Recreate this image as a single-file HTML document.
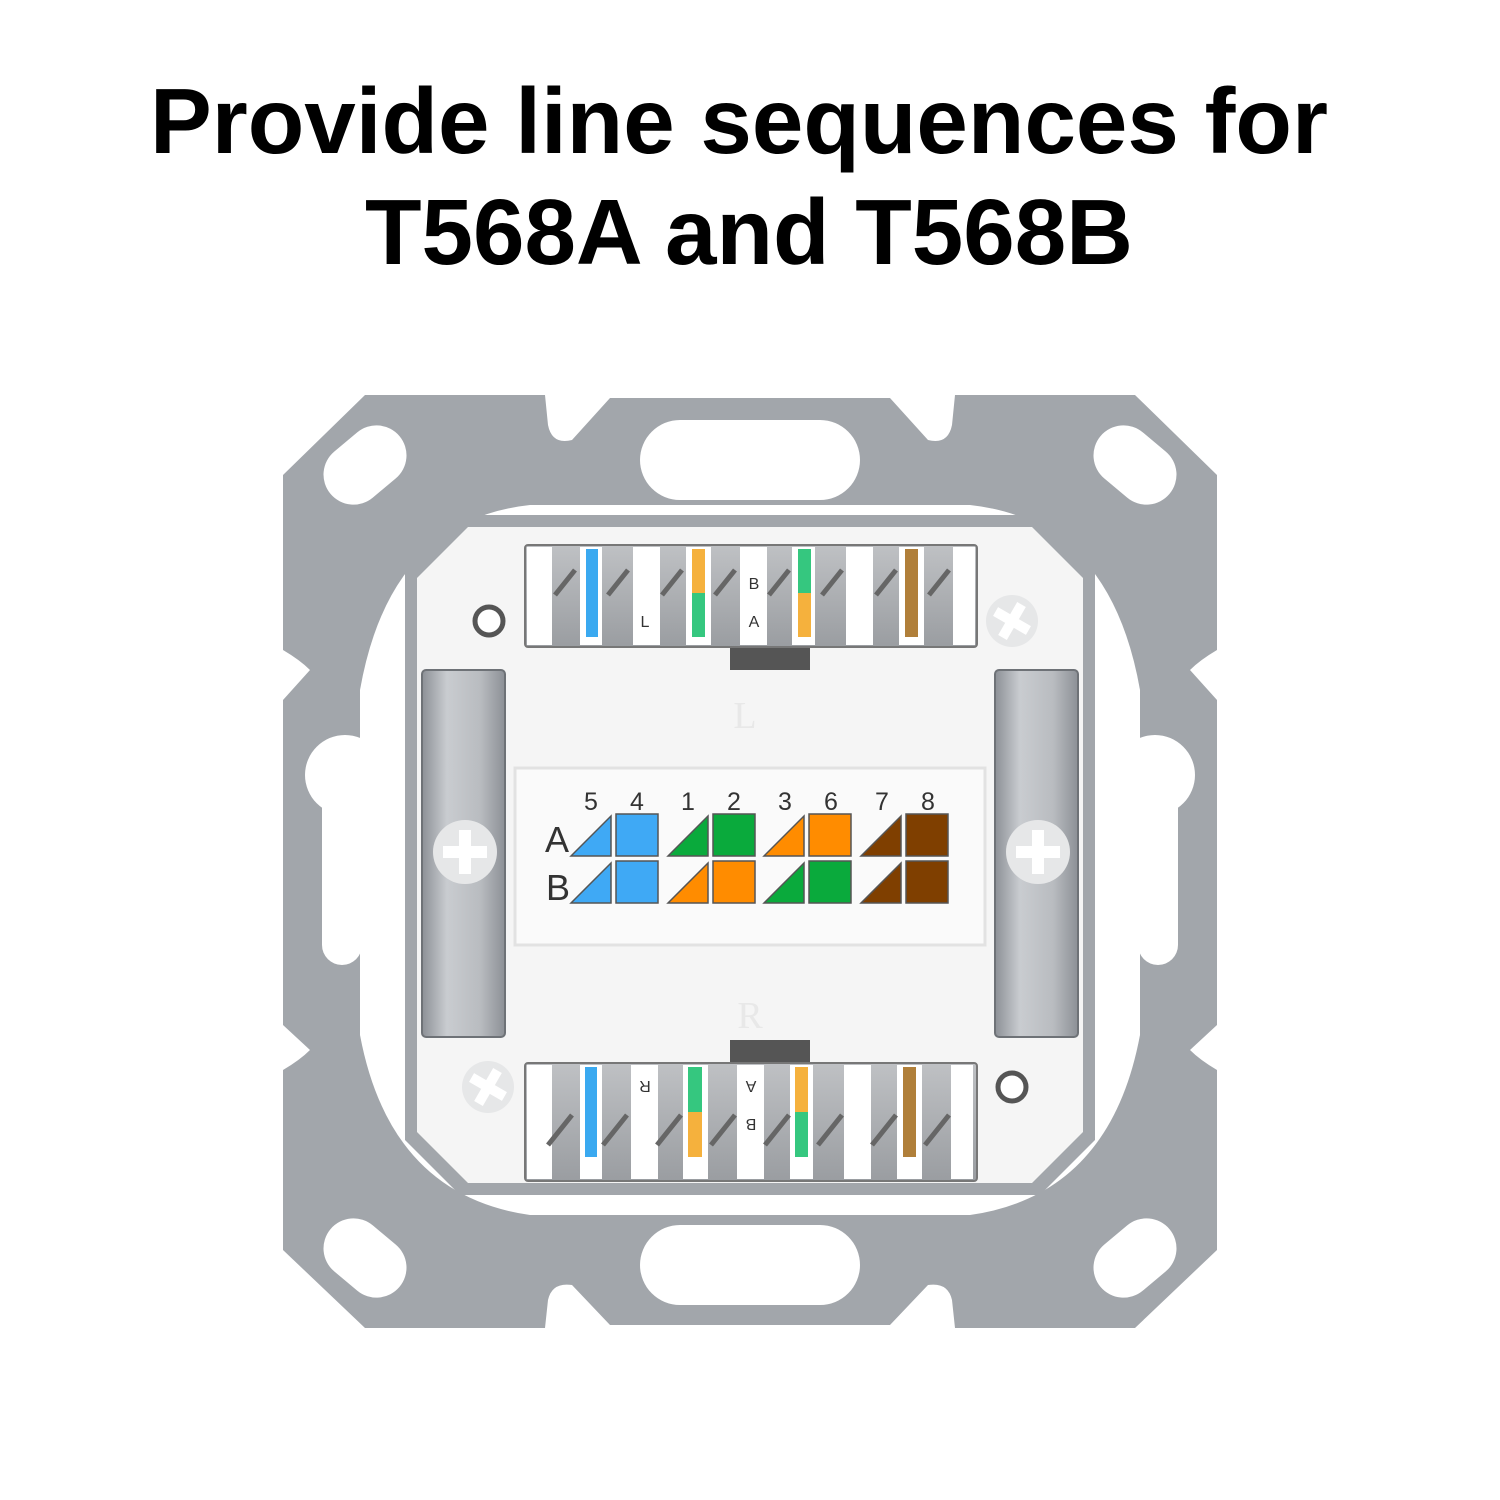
<!DOCTYPE html>
<html><head><meta charset="utf-8"><style>
html,body{margin:0;padding:0;background:#fff;width:1500px;height:1500px;overflow:hidden}
svg{display:block}
</style></head><body>
<svg width="1500" height="1500" viewBox="0 0 1500 1500" xmlns="http://www.w3.org/2000/svg" font-family="Liberation Sans, Arial, sans-serif">
<defs>
<linearGradient id="clip" x1="0" x2="1" y1="0" y2="0">
<stop offset="0" stop-color="#8c9096"/><stop offset="0.3" stop-color="#c9ccd0"/><stop offset="0.7" stop-color="#b9bcc0"/><stop offset="1" stop-color="#8c9096"/>
</linearGradient>
<linearGradient id="slot" x1="0" x2="0" y1="0" y2="1">
<stop offset="0" stop-color="#bfc1c4"/><stop offset="1" stop-color="#9a9da1"/>
</linearGradient>
</defs>
<rect width="1500" height="1500" fill="#fff"/>
<text x="739" y="153" text-anchor="middle" font-size="93" font-weight="bold" fill="#000" textLength="1178" lengthAdjust="spacingAndGlyphs">Provide line sequences for</text>
<text x="749" y="264" text-anchor="middle" font-size="93" font-weight="bold" fill="#000" textLength="768" lengthAdjust="spacingAndGlyphs">T568A and T568B</text>

<!-- outer plate -->
<path d="M365,395 L545,395 L548,425 Q552,445 572,440 L610,398 L890,398 L928,440 Q948,445 952,425 L955,395 L1135,395 L1217,475 L1217,650 Q1200,660 1190,670 L1217,700 L1217,1025 L1190,1050 Q1200,1060 1217,1070 L1217,1250 L1135,1328 L955,1328 L952,1300 Q948,1282 928,1285 L890,1325 L610,1325 L572,1285 Q552,1282 548,1300 L545,1328 L365,1328 L283,1250 L283,1070 Q300,1060 310,1050 L283,1025 L283,700 L310,670 Q300,660 283,650 L283,475 Z" fill="#a2a6ab"/>
<rect x="640" y="420" width="220" height="80" rx="40" fill="#fff"/>
<rect x="640" y="1225" width="220" height="80" rx="40" fill="#fff"/>
<rect x="320" y="435" width="90" height="60" rx="30" fill="#fff" transform="rotate(-40 365 465)"/>
<rect x="1090" y="435" width="90" height="60" rx="30" fill="#fff" transform="rotate(40 1135 465)"/>
<rect x="320" y="1228" width="90" height="60" rx="30" fill="#fff" transform="rotate(40 365 1258)"/>
<rect x="1090" y="1228" width="90" height="60" rx="30" fill="#fff" transform="rotate(-40 1135 1258)"/>
<circle cx="345" cy="775" r="40" fill="#fff"/><rect x="322" y="775" width="40" height="190" rx="20" fill="#fff"/>
<circle cx="1155" cy="775" r="40" fill="#fff"/><rect x="1138" y="775" width="40" height="190" rx="20" fill="#fff"/>
<path d="M530,505 L970,505 Q1110,520 1140,690 L1140,1035 Q1110,1195 970,1215 L530,1215 Q390,1195 360,1035 L360,690 Q390,520 530,505 Z" fill="#fff"/>
<path d="M460,515 L1040,515 L1095,570 L1095,1140 L1040,1195 L460,1195 L405,1140 L405,570 Z" fill="#a2a6ab"/>
<path d="M468,527 L1032,527 L1083,578 L1083,1132 L1032,1183 L468,1183 L417,1132 L417,578 Z" fill="#f5f5f5"/>
<rect x="422" y="670" width="83" height="367" rx="4" fill="url(#clip)" stroke="#6e7277" stroke-width="2"/>
<rect x="995" y="670" width="83" height="367" rx="4" fill="url(#clip)" stroke="#6e7277" stroke-width="2"/>
<circle cx="465" cy="852" r="32" fill="#e6e7e8"/><path d="M459,830h12v44h-12zM443,846h44v12h-44z" fill="#fff"/>
<circle cx="1038" cy="852" r="32" fill="#e6e7e8"/><path d="M1032,830h12v44h-12zM1016,846h44v12h-44z" fill="#fff"/>
<rect x="515" y="768" width="470" height="177" fill="#fafafa" stroke="#e2e2e2" stroke-width="3"/>
<text x="745" y="728" font-family="Liberation Serif, serif" font-size="38" fill="#e8e8e8" text-anchor="middle">L</text>
<text x="750" y="1028" font-family="Liberation Serif, serif" font-size="38" fill="#e8e8e8" text-anchor="middle">R</text>
<g font-size="25" fill="#333" text-anchor="middle">
<text x="591" y="810">5</text><text x="637" y="810">4</text>
<text x="688" y="810">1</text><text x="734" y="810">2</text>
<text x="785" y="810">3</text><text x="831" y="810">6</text>
<text x="882" y="810">7</text><text x="928" y="810">8</text>
</g>
<text x="545" y="852" font-size="36" fill="#333">A</text>
<text x="546" y="900" font-size="36" fill="#333">B</text>
<g stroke="#555" stroke-width="1.5">
<path d="M571,856L611,816L611,856Z" fill="#3fa9f5"/><rect x="616" y="814" width="42" height="42" fill="#3fa9f5"/>
<path d="M668,856L708,816L708,856Z" fill="#0aaa3c"/><rect x="713" y="814" width="42" height="42" fill="#0aaa3c"/>
<path d="M764,856L804,816L804,856Z" fill="#ff8c00"/><rect x="809" y="814" width="42" height="42" fill="#ff8c00"/>
<path d="M861,856L901,816L901,856Z" fill="#7f3f00"/><rect x="906" y="814" width="42" height="42" fill="#7f3f00"/>
<path d="M571,903L611,863L611,903Z" fill="#3fa9f5"/><rect x="616" y="861" width="42" height="42" fill="#3fa9f5"/>
<path d="M668,903L708,863L708,903Z" fill="#ff8c00"/><rect x="713" y="861" width="42" height="42" fill="#ff8c00"/>
<path d="M764,903L804,863L804,903Z" fill="#0aaa3c"/><rect x="809" y="861" width="42" height="42" fill="#0aaa3c"/>
<path d="M861,903L901,863L901,903Z" fill="#7f3f00"/><rect x="906" y="861" width="42" height="42" fill="#7f3f00"/>
</g>
<rect x="730" y="645" width="80" height="25" fill="#555"/>
<rect x="525" y="545" width="452" height="102" rx="3" fill="url(#slot)" stroke="#777" stroke-width="2"/>
<g fill="#fff">
<rect x="527" y="547" width="25" height="98"/><rect x="580" y="547" width="22" height="98"/><rect x="633" y="547" width="27" height="98"/><rect x="686" y="547" width="25" height="98"/><rect x="740" y="547" width="27" height="98"/><rect x="792" y="547" width="23" height="98"/><rect x="846" y="547" width="27" height="98"/><rect x="899" y="547" width="25" height="98"/><rect x="953" y="547" width="22" height="98"/>
</g>
<g stroke="#666" stroke-width="5">
<path d="M555,595L575,570M608,595L628,570M662,595L682,570M715,595L735,570M769,595L789,570M822,595L842,570M876,595L896,570M929,595L949,570"/>
</g>
<rect x="586" y="549" width="12" height="88" fill="#3aa9f0"/>
<rect x="692" y="549" width="13" height="44" fill="#f5b13d"/><rect x="692" y="593" width="13" height="44" fill="#35c77f"/>
<rect x="798" y="549" width="13" height="44" fill="#35c77f"/><rect x="798" y="593" width="13" height="44" fill="#f5b13d"/>
<rect x="905" y="549" width="13" height="88" fill="#b07f3a"/>
<g font-size="16" fill="#333" text-anchor="middle"><text x="645" y="627">L</text><text x="754" y="589">B</text><text x="754" y="627">A</text></g>
<circle cx="489" cy="621" r="14" fill="#fff" stroke="#555" stroke-width="5"/>
<circle cx="1012" cy="621" r="26" fill="#e6e7e8"/><path d="M1007,602h10v38h-10zM993,616h38v10h-38z" fill="#fff" transform="rotate(30 1012 621)"/>
<rect x="730" y="1040" width="80" height="25" fill="#555"/>
<rect x="525" y="1063" width="452" height="118" rx="3" fill="url(#slot)" stroke="#777" stroke-width="2"/>
<g fill="#fff">
<rect x="527" y="1065" width="25" height="114"/><rect x="580" y="1065" width="22" height="114"/><rect x="631" y="1065" width="27" height="114"/><rect x="683" y="1065" width="25" height="114"/><rect x="737" y="1065" width="27" height="114"/><rect x="790" y="1065" width="23" height="114"/><rect x="844" y="1065" width="27" height="114"/><rect x="897" y="1065" width="25" height="114"/><rect x="951" y="1065" width="22" height="114"/>
</g>
<g stroke="#666" stroke-width="5">
<path d="M548,1145L572,1115M603,1145L627,1115M657,1145L681,1115M711,1145L735,1115M765,1145L789,1115M818,1145L842,1115M872,1145L896,1115M925,1145L949,1115"/>
</g>
<rect x="585" y="1067" width="12" height="90" fill="#3aa9f0"/>
<rect x="688" y="1067" width="14" height="45" fill="#35c77f"/><rect x="688" y="1112" width="14" height="45" fill="#f5b13d"/>
<rect x="795" y="1067" width="13" height="45" fill="#f5b13d"/><rect x="795" y="1112" width="13" height="45" fill="#35c77f"/>
<rect x="903" y="1067" width="13" height="90" fill="#b07f3a"/>
<g font-size="16" fill="#333" text-anchor="middle"><text transform="translate(645 1081) rotate(180)">R</text><text transform="translate(751 1081) rotate(180)">A</text><text transform="translate(751 1119) rotate(180)">B</text></g>
<circle cx="1012" cy="1087" r="14" fill="#fff" stroke="#555" stroke-width="5"/>
<circle cx="488" cy="1087" r="26" fill="#e6e7e8"/><path d="M483,1068h10v38h-10zM469,1082h38v10h-38z" fill="#fff" transform="rotate(30 488 1087)"/>
</svg>
</body></html>
